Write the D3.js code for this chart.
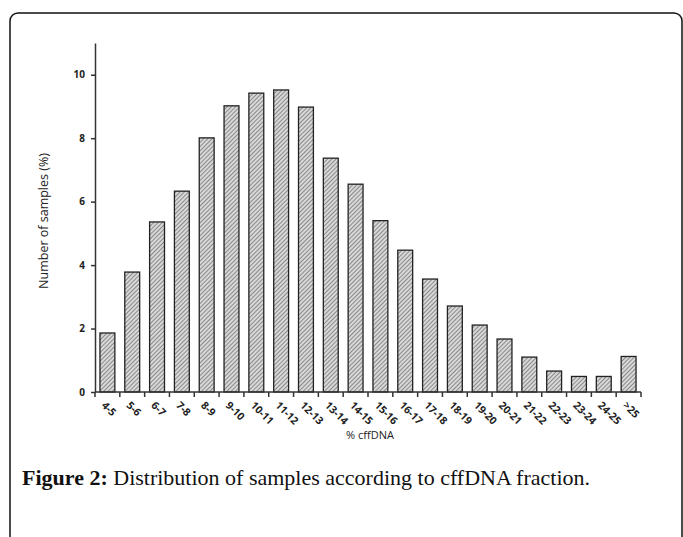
<!DOCTYPE html>
<html>
<head>
<meta charset="utf-8">
<script src="https://cdn.jsdelivr.net/npm/d3@7"></script>
<style>
  body { margin: 0; background: #fff; }
  svg { display: block; }
</style>
</head>
<body>
<div id="chart"></div>
<script>
// cffDNA fraction bins and share of samples (%)
const categories = ['4-5','5-6','6-7','7-8','8-9','9-10','10-11','11-12','12-13','13-14','14-15',
  '15-16','16-17','17-18','18-19','19-20','20-21','21-22','22-23','23-24','24-25','>25'];
const samples = [1.86, 3.78, 5.36, 6.33, 8.01, 9.02, 9.42, 9.52, 8.98, 7.37, 6.55,
  5.4, 4.47, 3.56, 2.71, 2.11, 1.67, 1.1, 0.66, 0.49, 0.49, 1.12];
const yTicks = [0, 2, 4, 6, 8, 10];

const width = 683, height = 537;
const margin = {top: 43, right: 42, bottom: 145, left: 95};

const svg = d3.select('#chart').append('svg')
  .attr('width', width)
  .attr('height', height);

// hatch pattern for the bars
const defs = svg.append('defs');
const pat = defs.append('pattern')
  .attr('id', 'hatch')
  .attr('patternUnits', 'userSpaceOnUse')
  .attr('width', 3).attr('height', 3)
  .attr('patternTransform', 'rotate(45)');
pat.append('rect').attr('width', 3).attr('height', 3).attr('fill', '#d8d8d8');
pat.append('line').attr('x1', 0).attr('y1', 0).attr('x2', 0).attr('y2', 3)
  .attr('stroke', '#555').attr('stroke-width', 1.2);

// rounded frame round the figure
svg.append('rect')
  .attr('x', 10).attr('y', 13)
  .attr('width', 672).attr('height', 620)
  .attr('rx', 8)
  .attr('fill', 'none')
  .attr('stroke', '#111')
  .attr('stroke-width', 1.5);

const contentWidth = width - margin.left - margin.right;
const contentHeight = height - margin.top - margin.bottom;

const x = d3.scaleBand()
  .range([0, contentWidth])
  .paddingInner(0.4)
  .paddingOuter(0.2)
  .domain(categories);

const y = d3.scaleLinear()
  .range([contentHeight, 0])
  .domain([0, 11]);

const g = svg.append('g')
  .attr('transform', 'translate(' + margin.left + ',' + margin.top + ')');

g.selectAll('.bar')
  .data(categories)
  .enter().append('rect')
    .attr('class', 'bar')
    .attr('x', d => x(d))
    .attr('y', (d, i) => y(samples[i]))
    .attr('width', x.bandwidth())
    .attr('height', (d, i) => contentHeight - y(samples[i]))
    .attr('fill', 'url(#hatch)')
    .attr('stroke', '#222')
    .attr('stroke-width', 1.3);

const font = '"Open Sans", "DejaVu Sans", sans-serif';

// y axis
const yAxis = g.append('g')
  .call(d3.axisLeft(y).tickValues(yTicks).tickSize(4).tickSizeOuter(0));
yAxis.select('.domain').attr('stroke', '#333').attr('stroke-width', 1.5);
yAxis.selectAll('.tick line').attr('stroke', '#333').attr('stroke-width', 1.5);
yAxis.selectAll('.tick text')
  .attr('x', -10)
  .attr('font-family', font)
  .attr('font-size', 10)
  .attr('font-weight', 'bold')
  .attr('fill', '#222');

// x axis: ticks between the bars
const xAxis = g.append('g')
  .attr('transform', 'translate(0,' + contentHeight + ')');
xAxis.append('line')
  .attr('x1', 0).attr('x2', contentWidth)
  .attr('stroke', '#333').attr('stroke-width', 1.5);
xAxis.selectAll('.xt')
  .data(d3.range(categories.length + 1))
  .enter().append('line')
    .attr('class', 'xt')
    .attr('x1', i => i * contentWidth / categories.length)
    .attr('x2', i => i * contentWidth / categories.length)
    .attr('y1', 0).attr('y2', 5)
    .attr('stroke', '#333').attr('stroke-width', 1.5);
xAxis.selectAll('.xl')
  .data(categories)
  .enter().append('text')
    .attr('class', 'xl')
    .attr('transform', d => 'translate(' + (x(d) + 3) + ',12) rotate(45)')
    .attr('font-family', font)
    .attr('font-size', 10.5)
    .attr('font-weight', 'bold')
    .attr('fill', '#222')
    .attr('dominant-baseline', 'middle')
    .text(d => d);

// axis titles
svg.append('text')
  .attr('transform', 'translate(48,221) rotate(-90)')
  .attr('text-anchor', 'middle')
  .attr('font-family', font)
  .attr('font-size', 12.5)
  .attr('fill', '#222')
  .text('Number of samples (%)');

svg.append('text')
  .attr('x', 370).attr('y', 439)
  .attr('text-anchor', 'middle')
  .attr('font-family', font)
  .attr('font-size', 11)
  .attr('fill', '#222')
  .text('% cffDNA');

// caption
const cap = svg.append('text')
  .attr('x', 22).attr('y', 485)
  .attr('font-family', '"Liberation Serif", "DejaVu Serif", serif')
  .attr('font-size', 22)
  .attr('fill', '#111');
cap.append('tspan').attr('font-weight', 'bold').text('Figure 2:');
cap.append('tspan').text(' Distribution of samples according to cffDNA fraction.');
</script>
</body>
</html>
